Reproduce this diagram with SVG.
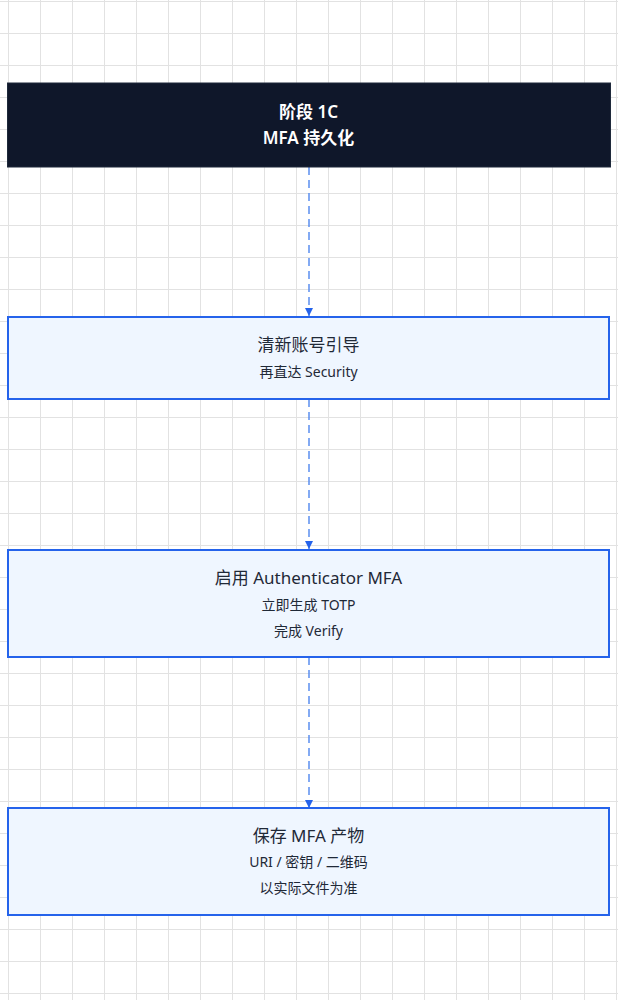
<svg xmlns="http://www.w3.org/2000/svg" width="618" height="1000" viewBox="0 0 618 1000">
<defs>
<pattern id="grid" width="32" height="32" patternUnits="userSpaceOnUse" x="8" y="1">
<path d="M0 0.5H32M0.5 0V32" fill="none" stroke="#e2e2e2" stroke-width="1"/>
</pattern>
<marker id="arrow" viewBox="0 0 10 10" refX="10" refY="5" markerWidth="8" markerHeight="8" markerUnits="userSpaceOnUse" orient="auto">
<path d="M0 0L10 5L0 10Z" fill="#2563eb"/>
</marker>
<style>
.t{font-family:"Noto Sans","Noto Sans CJK SC",sans-serif;text-anchor:middle;dominant-baseline:central;}
.dark{fill:#0f172a;stroke:#1e293b;stroke-width:1;}
.light{fill:#eff6ff;stroke:#2563eb;stroke-width:2;}
.wt{fill:#ffffff;font-size:17px;font-weight:600;}
.h{fill:#1f2937;font-size:17px;}
.s{fill:#1f2937;font-size:14px;}
.edge{stroke:#5b8ef0;stroke-width:1.5;stroke-dasharray:8 5;fill:none;}
</style>
</defs>
<rect width="618" height="1000" fill="#ffffff"/>
<rect width="618" height="1000" fill="url(#grid)"/>
<g id="connectors">
<path class="edge" d="M309 167V316" marker-end="url(#arrow)"/>
<path class="edge" d="M309 399V549" marker-end="url(#arrow)"/>
<path class="edge" d="M309 657V808" marker-end="url(#arrow)"/>
</g>
<g id="node-stage">
<rect class="dark" x="7.5" y="83" width="603" height="84"/>
<text class="t wt" x="308.5" y="111">阶段 1C</text>
<text class="t wt" x="308.5" y="137">MFA 持久化</text>
</g>
<g id="node-guide">
<rect class="light" x="8" y="317" width="601" height="82"/>
<text class="t h" x="308.5" y="344">清新账号引导</text>
<text class="t s" x="308.5" y="371">再直达 Security</text>
</g>
<g id="node-mfa">
<rect class="light" x="8" y="550" width="601" height="107"/>
<text class="t h" x="308.5" y="577">启用 Authenticator MFA</text>
<text class="t s" x="308.5" y="604">立即生成 TOTP</text>
<text class="t s" x="308.5" y="630">完成 Verify</text>
</g>
<g id="node-save">
<rect class="light" x="8" y="808" width="601" height="107"/>
<text class="t h" x="308.5" y="835">保存 MFA 产物</text>
<text class="t s" x="308.5" y="861">URI / 密钥 / 二维码</text>
<text class="t s" x="308.5" y="887">以实际文件为准</text>
</g>
</svg>
